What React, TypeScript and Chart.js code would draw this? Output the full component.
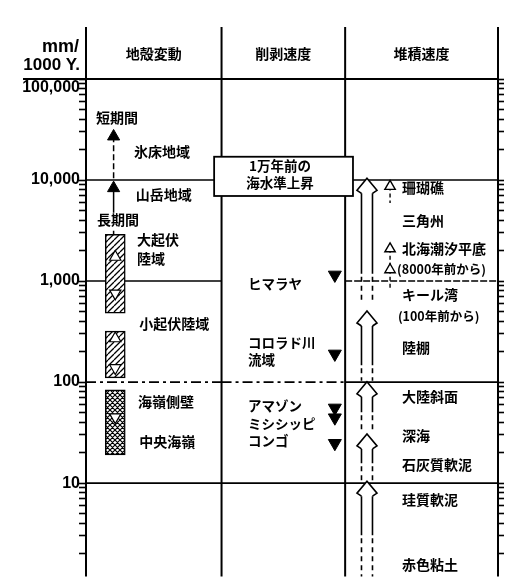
import { useEffect, useRef } from "react";
import { Chart, registerables } from "chart.js";

Chart.register(...registerables);

const JP = '"Noto Sans CJK JP", "Noto Sans", sans-serif';
const NUM = '"Liberation Sans", Arial, sans-serif';

// ---- axis ----
const yMin = 1.19;
const yMax = 100000;
const decadeValues = [100000, 10000, 1000, 100, 10];
const decadeLabels = ["100,000", "10,000", "1,000", "100", "10"];
const unitLines = ["mm/", "1000 Y."];
const tickDecades = [1, 10, 100, 1000, 10000];
const tickMantissas = [1, 2, 3, 4, 5, 6, 7, 8, 9];

// ---- columns (x in 0..100 units) ----
const columnEdges = [0, 32.9, 62.9, 100];
const columnTitles = ["地殻変動", "削剥速度", "堆積速度"];

// ---- 地殻変動 (tectonic) ----
const upliftBarX = 7.1;
const upliftRanges = [
  [480, 2900],
  [110, 320],
  [19, 84],
];
const upliftPatterns = ["diag", "diag", "cross"];
const upliftMarks = [1730, 755, 270, 138, 45];
const upliftMarkDown = [false, true, false, true, true];
const arrowX = 6.7;
const shortTermArrow = [10400, 27000];
const longTermArrow = [4750, 8310];
const longTermTail = [2200, 3150];
const tectonicTexts = ["短期間", "氷床地域", "山岳地域", "長期間", "大起伏", "陸域", "小起伏陸域", "海嶺側壁", "中央海嶺"];
const tectonicTextX = [2.4, 11.65, 12.1, 2.7, 12.4, 12.4, 12.9, 12.6, 12.9];
const tectonicTextY = [41700, 19050, 7110, 4060, 2590, 1656, 377, 64.3, 25.6];

// ---- 削剥速度 (erosion) ----
const erosionX = 60.4;
const erosionRates = [1150, 190, 55.5, 44.4, 24.8];
const erosionTexts = ["ヒマラヤ", "コロラド川", "流域", "アマゾン", "ミシシッピ", "コンゴ"];
const erosionTextX = 39.3;
const erosionTextY = [946, 246, 165, 58.7, 38.4, 26.2];

// ---- sea-level box ----
const boxTexts = ["1万年前の", "海水準上昇"];
const boxTextY = [13900, 9300];
const boxTextX = 47.1;
const boxX = [31.1, 64.8];
const boxY = [6950, 17000];

// ---- 堆積速度 (sedimentation) ----
const sedArrowX = 68.2;
const sedArrowTip = [10400, 505, 100.5, 30.7, 10.46];
const sedArrowSolidEnd = [1183, 147, 50.2, 15.7, 3.05];
const sedArrowDashEnd = [632, 102.8, 33.5, 10.5, 1.19];
const smallMarkX = 73.8;
const coralMark = [8650, 5940];
const northSeaMarks = [2085, 1294, 826];
const sedimentTexts = ["珊瑚礁", "三角州", "北海潮汐平底", "(8000年前から)", "キール湾", "(100年前から)", "陸棚", "大陸斜面", "深海", "石灰質軟泥", "珪質軟泥", "赤色粘土"];
const sedimentTextX = [76.7, 76.7, 76.7, 75.5, 76.7, 75.7, 76.7, 76.7, 76.7, 76.7, 76.7, 76.7];
const sedimentTextY = [8310, 3968, 2070, 1294, 740, 451, 220, 71.8, 29.3, 15.3, 6.83, 1.556];

const tickValues: number[] = [];
tickDecades.forEach((d) => tickMantissas.forEach((m) => {
  const v = d * m;
  if (v >= yMin && v <= yMax) tickValues.push(v);
}));
tickValues.push(yMax);

function makePattern(kind: string) {
  const s = kind === "cross" ? 5 : 6;
  const c = document.createElement("canvas");
  c.width = s;
  c.height = s;
  const g = c.getContext("2d")!;
  g.fillStyle = "#fff";
  g.fillRect(0, 0, s, s);
  g.strokeStyle = "#000";
  g.lineWidth = kind === "cross" ? 1.2 : 1.3;
  g.beginPath();
  for (const o of [-s, 0, s]) {
    g.moveTo(o, s);
    g.lineTo(o + s, 0);
  }
  if (kind === "cross") {
    for (const o of [-s, 0, s]) {
      g.moveTo(o, 0);
      g.lineTo(o + s, s);
    }
  }
  g.stroke();
  return g.createPattern(c, "repeat");
}

function drawHollowArrow(ctx: CanvasRenderingContext2D, cx: number, tipY: number, solidY: number, dashY: number) {
  const headH = 15, headW = 10, shaftW = 5.5;
  const baseY = tipY + headH;
  const outline = () => {
    ctx.beginPath();
    ctx.moveTo(cx - shaftW, baseY);
    ctx.lineTo(cx - headW, baseY - 3);
    ctx.lineTo(cx, tipY);
    ctx.lineTo(cx + headW, baseY - 3);
    ctx.lineTo(cx + shaftW, baseY);
  };
  ctx.save();
  ctx.strokeStyle = "#000";
  ctx.fillStyle = "#fff";
  ctx.lineWidth = 1.6;
  outline();
  ctx.closePath();
  ctx.fill();
  outline();
  ctx.stroke();
  ctx.beginPath();
  ctx.moveTo(cx - shaftW, baseY);
  ctx.lineTo(cx - shaftW, solidY);
  ctx.moveTo(cx + shaftW, baseY);
  ctx.lineTo(cx + shaftW, solidY);
  ctx.stroke();
  ctx.setLineDash([5, 4]);
  ctx.beginPath();
  ctx.moveTo(cx - shaftW, solidY + 3);
  ctx.lineTo(cx - shaftW, dashY);
  ctx.moveTo(cx + shaftW, solidY + 3);
  ctx.lineTo(cx + shaftW, dashY);
  ctx.stroke();
  ctx.restore();
}

const diagramPlugin = {
  id: "diagram",
  beforeDatasetsDraw(chart: any) {
    const { ctx, chartArea: a, scales } = chart;
    const xs = scales.x, ys = scales.y;
    ctx.save();
    ctx.strokeStyle = "#000";
    ctx.lineWidth = 1.6;
    decadeValues.slice(1).forEach((v) => {
      const py = ys.getPixelForValue(v);
      for (let c = 0; c < 3; c++) {
        if (v === 1000 && c === 1) continue;
        const dash = v === 100 && c < 2 ? [10, 4, 3, 4] : v === 1000 && c === 2 ? [7, 2] : [];
        ctx.setLineDash(dash);
        ctx.beginPath();
        ctx.moveTo(xs.getPixelForValue(columnEdges[c]), py);
        ctx.lineTo(xs.getPixelForValue(columnEdges[c + 1]), py);
        ctx.stroke();
      }
    });
    ctx.setLineDash([]);
    ctx.lineWidth = 2;
    const topY = ys.getPixelForValue(yMax);
    ctx.beginPath();
    ctx.moveTo(a.left - 63, topY);
    ctx.lineTo(a.right, topY);
    ctx.stroke();
    columnEdges.forEach((e) => {
      const px = xs.getPixelForValue(e);
      ctx.beginPath();
      ctx.moveTo(px, a.top - 52);
      ctx.lineTo(px, a.bottom);
      ctx.stroke();
    });
    ctx.restore();
  },
  afterDatasetsDraw(chart: any) {
    const { ctx, chartArea: a, scales } = chart;
    const xs = scales.x, ys = scales.y;
    const X = (v: number) => xs.getPixelForValue(v);
    const Y = (v: number) => ys.getPixelForValue(v);
    sedArrowTip.forEach((t, i) => {
      drawHollowArrow(ctx, X(sedArrowX), Y(t), Y(sedArrowSolidEnd[i]), Y(sedArrowDashEnd[i]));
    });
    ctx.save();
    const bx0 = X(boxX[0]), bx1 = X(boxX[1]);
    const by0 = Y(boxY[1]), by1 = Y(boxY[0]);
    ctx.fillStyle = "#fff";
    ctx.fillRect(bx0, by0, bx1 - bx0, by1 - by0);
    ctx.strokeStyle = "#000";
    ctx.lineWidth = 1.8;
    ctx.strokeRect(bx0, by0, bx1 - bx0, by1 - by0);
    ctx.fillStyle = "#000";
    ctx.textBaseline = "middle";
    ctx.textAlign = "center";
    ctx.font = `bold 13.5px ${JP}`;
    boxTexts.forEach((t, i) => ctx.fillText(t, X(boxTextX), Y(boxTextY[i])));
    ctx.font = `bold 14px ${JP}`;
    columnTitles.forEach((t, i) => ctx.fillText(t, (X(columnEdges[i]) + X(columnEdges[i + 1])) / 2, a.top - 25));
    ctx.textAlign = "left";
    tectonicTexts.forEach((t, i) => ctx.fillText(t, X(tectonicTextX[i]), Y(tectonicTextY[i])));
    ctx.font = `bold 13.5px ${JP}`;
    erosionTexts.forEach((t, i) => ctx.fillText(t, X(erosionTextX), Y(erosionTextY[i])));
    sedimentTexts.forEach((t, i) => {
      ctx.font = t.startsWith("(") ? `bold 12.5px ${JP}` : `bold 14px ${JP}`;
      ctx.fillText(t, X(sedimentTextX[i]), Y(sedimentTextY[i]));
    });
    ctx.textAlign = "right";
    ctx.font = `bold 16px ${NUM}`;
    decadeValues.forEach((v, i) => {
      ctx.fillText(decadeLabels[i], a.left - 6, Y(v) + (v === yMax ? 9 : 0));
    });
    ctx.font = `bold 18px ${NUM}`;
    ctx.fillText(unitLines[0], a.left - 7, a.top - 32);
    ctx.font = `bold 17px ${NUM}`;
    ctx.fillText(unitLines[1], a.left - 6, a.top - 14);
    ctx.restore();
  },
};

export default function App() {
  const ref = useRef<HTMLCanvasElement>(null);
  useEffect(() => {
    const canvas = ref.current!;
    const patterns = upliftPatterns.map((k) => makePattern(k));
    const axisBase = {
      type: "logarithmic" as const,
      min: yMin,
      max: yMax,
      beginAtZero: false,
      afterBuildTicks: (s: any) => {
        s.ticks = tickValues.map((v) => ({ value: v }));
      },
      ticks: { display: false },
      border: { display: false },
    };
    const chart = new Chart(canvas, {
      type: "scatter",
      data: {
        datasets: [
          {
            type: "line",
            data: shortTermArrow.map((v) => ({ x: arrowX, y: v })),
            borderColor: "#000",
            borderWidth: 1.5,
            borderDash: [6, 3],
            pointStyle: "triangle",
            pointRadius: [0, 7],
            pointBackgroundColor: "#000",
            pointBorderColor: "#000",
            pointBorderWidth: 1,
            order: 4,
          },
          {
            type: "line",
            data: longTermArrow.map((v) => ({ x: arrowX, y: v })),
            borderColor: "#000",
            borderWidth: 1.5,
            pointStyle: "triangle",
            pointRadius: [0, 7],
            pointBackgroundColor: "#000",
            pointBorderColor: "#000",
            pointBorderWidth: 1,
            order: 4,
          },
          {
            type: "line",
            data: longTermTail.map((v) => ({ x: arrowX, y: v })),
            borderColor: "#000",
            borderWidth: 1.5,
            pointRadius: 0,
            order: 4,
          },
          {
            type: "bar",
            data: upliftRanges.map((r) => ({ x: upliftBarX, y: r })),
            backgroundColor: patterns as any,
            borderColor: "#000",
            borderWidth: 1.5,
            borderSkipped: false,
            barThickness: 20,
            order: 3,
          } as any,
          {
            type: "scatter",
            data: upliftMarks.map((v) => ({ x: upliftBarX, y: v })),
            pointStyle: "triangle",
            pointRotation: upliftMarkDown.map((d) => (d ? 180 : 0)),
            pointRadius: 6.5,
            pointBackgroundColor: "#fff",
            pointBorderColor: "#000",
            pointBorderWidth: 1.2,
            order: 1,
          },
          {
            type: "scatter",
            data: erosionRates.map((v) => ({ x: erosionX, y: v })),
            pointStyle: "triangle",
            pointRotation: 180,
            pointRadius: 7.5,
            pointBackgroundColor: "#000",
            pointBorderColor: "#000",
            pointBorderWidth: 1,
            order: 1,
          },
          {
            type: "line",
            data: coralMark.map((v) => ({ x: smallMarkX, y: v })),
            borderColor: "#000",
            borderWidth: 1.4,
            borderDash: [4, 3],
            pointStyle: "triangle",
            pointRadius: [6, 0],
            pointBackgroundColor: "#fff",
            pointBorderColor: "#000",
            pointBorderWidth: 1.4,
            order: 2,
          },
          {
            type: "line",
            data: northSeaMarks.map((v) => ({ x: smallMarkX, y: v })),
            borderColor: "#000",
            borderWidth: 1.4,
            borderDash: [4, 3],
            pointStyle: "triangle",
            pointRadius: [6, 6, 0],
            pointBackgroundColor: "#fff",
            pointBorderColor: "#000",
            pointBorderWidth: 1.4,
            order: 2,
          },
        ] as any,
      },
      options: {
        responsive: false,
        devicePixelRatio: 1,
        animation: false,
        events: [],
        layout: { padding: { top: 79, left: 0, right: 0, bottom: 0 } },
        plugins: { legend: { display: false }, tooltip: { enabled: false } },
        scales: {
          x: { type: "linear", min: 0, max: 100, display: false, offset: false, grid: { offset: false } },
          y: {
            ...axisBase,
            position: "left",
            afterFit: (s: any) => {
              s.width = 86;
            },
            grid: { drawOnChartArea: false, drawTicks: true, tickLength: 7, tickWidth: 1.6, tickColor: "#000", color: "#000" },
          },
          y2: {
            ...axisBase,
            position: "right",
            afterFit: (s: any) => {
              s.width = 11;
            },
            grid: { drawOnChartArea: false, drawTicks: true, tickLength: 6, tickWidth: 1.6, tickColor: "#000", color: "#000" },
          },
        } as any,
      },
      plugins: [diagramPlugin],
    });
    return () => chart.destroy();
  }, []);
  return (
    <div style={{ position: "fixed", left: 0, top: 0, width: 509, height: 585, background: "#fff" }}>
      <canvas ref={ref} width={509} height={585} style={{ display: "block", width: 509, height: 585 }} />
    </div>
  );
}
